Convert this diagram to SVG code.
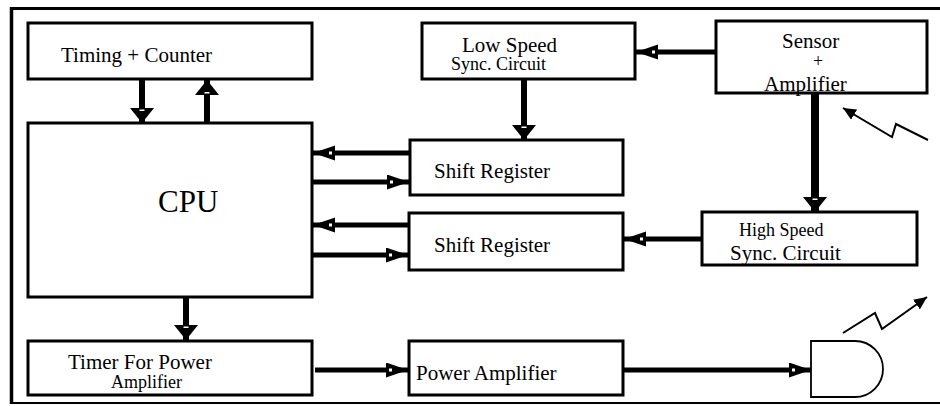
<svg xmlns="http://www.w3.org/2000/svg" width="940" height="406" viewBox="0 0 940 406">
<defs>
<style>
.box{fill:#fff;stroke:#000;stroke-width:3}
.t{font-size:21px;fill:#000}
.s{font-size:18px}
.v{stroke:#000;stroke-width:6;fill:none;marker-end:url(#hv)}
.h{stroke:#000;stroke-width:5;fill:none;marker-end:url(#hh)}
.z{stroke:#000;stroke-width:2;fill:none;marker-end:url(#hz)}
</style>
<marker id="hv" markerUnits="userSpaceOnUse" markerWidth="16" markerHeight="26" refX="15" refY="13" orient="auto">
<path d="M0,1 L15,13 L0,25 Z" fill="#000"/>
<rect x="1.5" y="10.5" width="1.5" height="5" fill="#fff"/>
</marker>
<marker id="hh" markerUnits="userSpaceOnUse" markerWidth="23" markerHeight="16" refX="22" refY="7.5" orient="auto">
<path d="M0,0 L22,7.5 L0,15 Z" fill="#000"/>
<rect x="3" y="6" width="3" height="3" fill="#fff"/>
</marker>
<marker id="hz" markerUnits="userSpaceOnUse" markerWidth="14" markerHeight="12" refX="13" refY="6" orient="auto">
<path d="M0,0 L13,6 L0,12 Z" fill="#000"/>
</marker>
</defs>
<rect width="940" height="406" fill="#fff"/>
<g id="frame" stroke="#000">
<line x1="11.5" y1="7" x2="11.5" y2="404" stroke-width="3.5"/>
<line x1="10" y1="8.5" x2="940" y2="8.5" stroke-width="3"/>
<line x1="10" y1="403" x2="940" y2="403" stroke-width="2"/>
</g>
<g id="connectors">
<path class="v" d="M142,79 V123"/>
<path class="v" d="M207,123 V80"/>
<path class="v" d="M524,79 V140"/>
<path class="h" d="M410,153 H313"/>
<path class="h" d="M312,182 H409"/>
<path class="h" d="M409,225 H313"/>
<path class="h" d="M312,255 H408"/>
<path class="h" d="M702,239 H624"/>
<path class="h" d="M716,52 H636"/>
<path class="v" style="stroke-width:8" d="M815,94 V212"/>
<path class="v" d="M186,297 V340"/>
<path class="h" d="M315,370 H408"/>
<path class="h" d="M623,370 H811"/>
<path class="z" d="M928,140 L896,124 L892,137 L843,108"/>
<path class="z" d="M843,333 L875,313 L882,329 L927,297"/>
</g>
<g font-family="Liberation Serif, DejaVu Serif, serif">
<g id="timing"><rect class="box" x="28" y="23" width="284" height="56"/><text class="t" x="61" y="62">Timing + Counter</text></g>
<g id="cpu"><rect class="box" x="28" y="123" width="284" height="174"/><text class="t" x="158" y="212" style="font-size:31px">CPU</text></g>
<g id="timer"><rect class="box" x="28" y="341" width="284" height="54"/><text class="t" x="68" y="369">Timer For Power</text><text class="t s" x="111" y="388">Amplifier</text></g>
<g id="lowspeed"><rect class="box" x="422" y="23" width="213" height="56"/><text class="t" x="462" y="52">Low Speed</text><text class="t s" x="451" y="70">Sync. Circuit</text></g>
<g id="shift1"><rect class="box" x="410" y="140" width="213" height="55"/><text class="t" x="434" y="178">Shift Register</text></g>
<g id="shift2"><rect class="box" x="409" y="213" width="214" height="57"/><text class="t" x="434" y="252">Shift Register</text></g>
<g id="power"><rect class="box" x="409" y="341" width="214" height="54"/><text class="t" x="416" y="380">Power Amplifier</text></g>
<g id="sensor"><rect class="box" x="716" y="21" width="211" height="72"/><text class="t" x="782" y="48">Sensor</text><text class="t s" x="818" y="67" text-anchor="middle">+</text><text class="t" x="764" y="91">Amplifier</text></g>
<g id="highspeed"><rect class="box" x="702" y="212" width="215" height="53"/><text class="t s" x="739" y="236">High Speed</text><text class="t" x="730" y="260">Sync. Circuit</text></g>
</g>
<g id="emitter"><path d="M811,341 H855 A28,28 0 0 1 855,397 H811 Z" fill="#fff" stroke="#000" stroke-width="1.8"/></g>
</svg>
